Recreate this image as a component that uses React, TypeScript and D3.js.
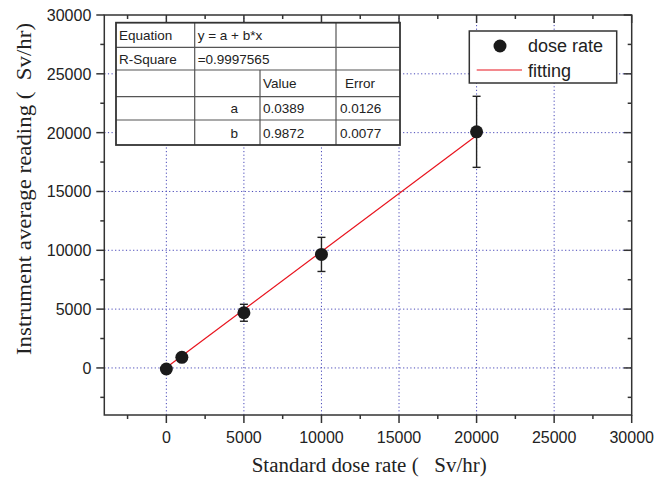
import * as d3 from "d3";
import React from "react";

// measured points (Sv/hr)
const doseX = [0, 1000, 5000, 10000, 20000];
const doseY = [-90, 900, 4690, 9650, 20070];
const doseErr = [120, 180, 720, 1450, 3020];

// fitted line end points
const fitX = [0, 20000];
const fitY = [40, 19750];

const majorTicks = [0, 5000, 10000, 15000, 20000, 25000, 30000];
const minorTicks = [-2500, 2500, 7500, 12500, 17500, 22500, 27500];
const gridTicks = [0, 5000, 10000, 15000, 20000, 25000];

// fit result table
const tableRows = [
  ["Equation", "y = a + b*x", "", ""],
  ["R-Square", "=0.9997565", "", ""],
  ["", "", "Value", "Error"],
  ["", "a", "0.0389", "0.0126"],
  ["", "b", "0.9872", "0.0077"],
];

const legendLabels = ["dose rate", "fitting"];

const W = 657;
const H = 477;
const sans = "'Liberation Sans', Arial, sans-serif";
const serif = "'Liberation Serif', 'Times New Roman', serif";

export default function App() {
  const x = d3.scaleLinear().domain([-4000, 30000]).range([104.3, 631.7]);
  const y = d3.scaleLinear().domain([-4000, 30000]).range([415, 15]);
  const [x0, x1] = x.range();
  const [y0, y1] = y.range();

  const line = d3
    .line<number>()
    .x((d) => x(d))
    .y((d, i) => y(fitY[i]));

  // table geometry
  const colX = [116, 194.7, 260, 336, 400];
  const rowY = [22.7, 47.3, 70, 96.7, 120, 145];

  return (
    <svg
      width={W}
      height={H}
      style={{ position: "absolute", left: 0, top: 0, background: "#fff" }}
    >
      {/* grid */}
      <g stroke="#4848b8" strokeWidth={1} strokeDasharray="1.2 2.4">
        {gridTicks.map((t) => (
          <line key={"gx" + t} x1={x(t)} x2={x(t)} y1={y0} y2={y1} />
        ))}
        {gridTicks.map((t) => (
          <line key={"gy" + t} x1={x0} x2={x1} y1={y(t)} y2={y(t)} />
        ))}
      </g>

      {/* fit line */}
      <path d={line(fitX) || ""} fill="none" stroke="#e8141e" strokeWidth={1.2} />

      {/* error bars and points */}
      <g stroke="#222" strokeWidth={1.4}>
        {doseX.map((d, i) => (
          <g key={"e" + i}>
            <line x1={x(d)} x2={x(d)} y1={y(doseY[i] - doseErr[i])} y2={y(doseY[i] + doseErr[i])} />
            <line x1={x(d) - 4} x2={x(d) + 4} y1={y(doseY[i] - doseErr[i])} y2={y(doseY[i] - doseErr[i])} />
            <line x1={x(d) - 4} x2={x(d) + 4} y1={y(doseY[i] + doseErr[i])} y2={y(doseY[i] + doseErr[i])} />
          </g>
        ))}
      </g>
      {doseX.map((d, i) => (
        <circle key={"p" + i} cx={x(d)} cy={y(doseY[i])} r={6.5} fill="#1a1a1a" />
      ))}

      {/* frame and ticks */}
      <g stroke="#333" strokeWidth={1.5}>
        <rect x={x0} y={y1} width={x1 - x0} height={y0 - y1} fill="none" />
        {majorTicks.map((t) => (
          <g key={"mt" + t}>
            <line x1={x(t)} x2={x(t)} y1={y0} y2={y0 + 8} />
            <line x1={x(t)} x2={x(t)} y1={y1} y2={y1 + 8} />
            <line x1={x0 - 8} x2={x0} y1={y(t)} y2={y(t)} />
            <line x1={x1 - 8} x2={x1} y1={y(t)} y2={y(t)} />
          </g>
        ))}
        {minorTicks.map((t) => (
          <g key={"nt" + t}>
            <line x1={x(t)} x2={x(t)} y1={y0} y2={y0 + 4} />
            <line x1={x(t)} x2={x(t)} y1={y1} y2={y1 + 4} />
            <line x1={x0 - 4} x2={x0} y1={y(t)} y2={y(t)} />
            <line x1={x1 - 4} x2={x1} y1={y(t)} y2={y(t)} />
          </g>
        ))}
      </g>

      {/* tick labels */}
      <g fontFamily={sans} fontSize={16} fill="#222">
        {majorTicks.map((t) => (
          <text key={"xl" + t} x={x(t)} y={y0 + 27.5} textAnchor="middle">
            {t}
          </text>
        ))}
        {majorTicks.map((t) => (
          <text key={"yl" + t} x={x0 - 13} y={y(t) + 6} textAnchor="end">
            {t}
          </text>
        ))}
      </g>

      {/* axis titles */}
      <text
        x={369.2}
        y={471.5}
        textAnchor="middle"
        fontFamily={serif}
        fontSize={20.5}
        fill="#222"
        textLength={235}
        lengthAdjust="spacingAndGlyphs"
        style={{ whiteSpace: "pre" }}
      >
        {"Standard dose rate (   Sv/hr)"}
      </text>
      <text
        transform={`translate(31,189) rotate(-90)`}
        textAnchor="middle"
        fontFamily={serif}
        fontSize={20.5}
        fill="#222"
        textLength={332}
        lengthAdjust="spacingAndGlyphs"
        style={{ whiteSpace: "pre" }}
      >
        {"Instrument average reading (  Sv/hr)"}
      </text>

      {/* result table */}
      <g fontFamily={sans} fontSize={13.5} fill="#222">
        <rect x={colX[0]} y={rowY[0]} width={colX[4] - colX[0]} height={rowY[5] - rowY[0]} fill="#fff" />
        <g stroke="#555" strokeWidth={1.2}>
          {rowY.slice(1, 5).map((r) => (
            <line key={"r" + r} x1={colX[0]} x2={colX[4]} y1={r} y2={r} />
          ))}
          <line x1={colX[1]} x2={colX[1]} y1={rowY[0]} y2={rowY[5]} />
          <line x1={colX[2]} x2={colX[2]} y1={rowY[2]} y2={rowY[5]} />
          <line x1={colX[3]} x2={colX[3]} y1={rowY[0]} y2={rowY[5]} />
        </g>
        <rect
          x={colX[0]}
          y={rowY[0]}
          width={colX[4] - colX[0]}
          height={rowY[5] - rowY[0]}
          fill="none"
          stroke="#333"
          strokeWidth={1.8}
        />
        {tableRows.map((row, ri) => {
          const base = (rowY[ri] + rowY[ri + 1]) / 2 + 5;
          return (
            <g key={"tr" + ri}>
              <text x={colX[0] + 3} y={base}>{row[0]}</text>
              {ri >= 3 ? (
                <text x={colX[2] - 22} y={base} textAnchor="end">{row[1]}</text>
              ) : (
                <text x={colX[1] + 3} y={base}>{row[1]}</text>
              )}
              <text x={colX[2] + 3} y={base}>{row[2]}</text>
              <text x={colX[3] + (ri === 2 ? 9 : 4)} y={base}>{row[3]}</text>
            </g>
          );
        })}
      </g>

      {/* legend */}
      <g fontFamily={sans} fontSize={18} fill="#222">
        <rect x={469.3} y={31} width={147.4} height={52} fill="#fff" stroke="#333" strokeWidth={1.5} />
        <circle cx={500} cy={46} r={6.5} fill="#1a1a1a" />
        <line x1={476.7} x2={522} y1={70} y2={70} stroke="#e8141e" strokeWidth={1.2} />
        <text x={528} y={51.5}>{legendLabels[0]}</text>
        <text x={528} y={76.5}>{legendLabels[1]}</text>
      </g>
    </svg>
  );
}
